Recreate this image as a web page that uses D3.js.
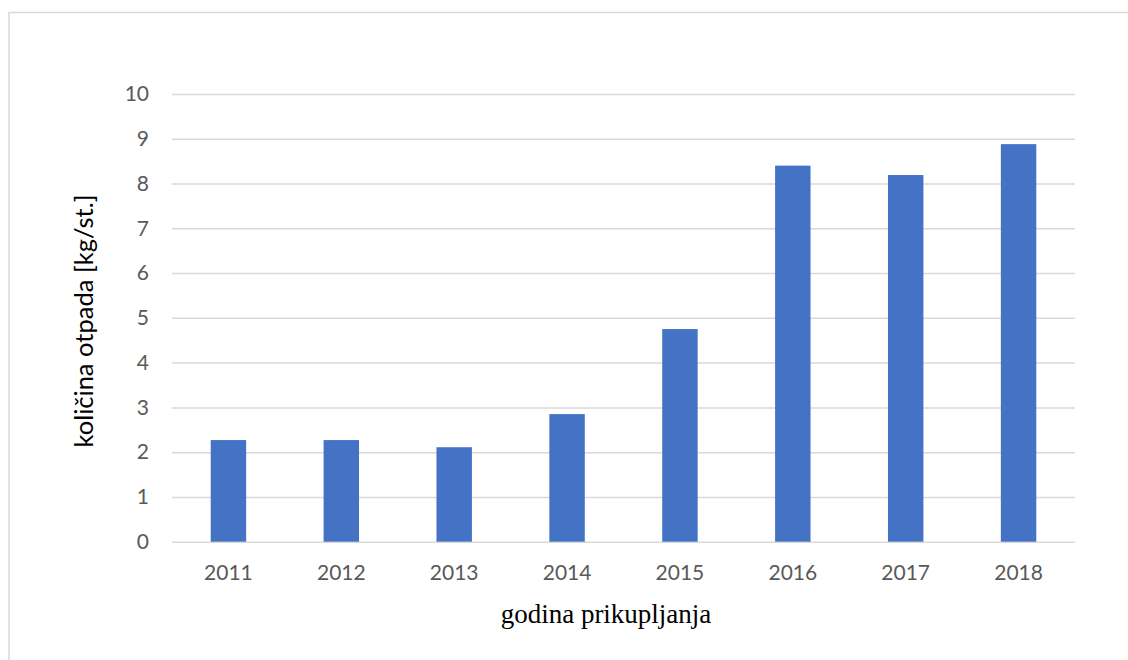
<!DOCTYPE html>
<html>
<head>
<meta charset="utf-8">
<script src="https://cdn.jsdelivr.net/npm/d3@7"></script>
<style>
  body { margin: 0; background: #fff; }
  svg { display: block; }
  .tick text { font-family: Lato, "Open Sans", sans-serif; font-size: 21px; fill: #595959; }
  .grid line { stroke: #d9d9d9; stroke-width: 1.5; }
</style>
</head>
<body>
<svg id="chart" width="1128" height="660"></svg>
<script>
var years = ["2011", "2012", "2013", "2014", "2015", "2016", "2017", "2018"];
var values = [2.27, 2.27, 2.11, 2.85, 4.75, 8.40, 8.19, 8.88];
var yTicks = [0, 1, 2, 3, 4, 5, 6, 7, 8, 9, 10];

var svg = d3.select("#chart");
var plotLeft = 172, plotRight = 1075, plotTop = 94, plotBottom = 541.7;

// chart border
svg.append("rect")
   .attr("x", 9).attr("y", 12.5)
   .attr("width", 1140).attr("height", 700)
   .attr("fill", "none")
   .attr("stroke", "#d9d9d9")
   .attr("stroke-width", 1.5);

var x = d3.scaleBand()
          .domain(years)
          .range([plotLeft, plotRight])
          .paddingInner(0.686)
          .paddingOuter(0.343);

var y = d3.scaleLinear()
          .domain([0, 10])
          .range([plotBottom, plotTop]);

// gridlines + y labels
var yAxis = svg.append("g")
   .attr("class", "grid")
   .attr("transform", "translate(" + plotLeft + ",0)")
   .call(d3.axisLeft(y).tickValues(yTicks).tickSize(-(plotRight - plotLeft)).tickPadding(23));
yAxis.select(".domain").remove();

// bars
svg.selectAll(".bar")
   .data(values)
   .enter()
   .append("rect")
   .attr("class", "bar")
   .attr("x", function(d, i){ return x(years[i]); })
   .attr("width", x.bandwidth())
   .attr("y", function(d){ return y(d); })
   .attr("height", function(d){ return plotBottom - y(d); })
   .attr("fill", "#4472c4");

// x labels
var xAxis = svg.append("g")
   .attr("transform", "translate(0," + plotBottom + ")")
   .call(d3.axisBottom(x).tickSize(0).tickPadding(23));
xAxis.select(".domain").remove();

// axis titles
svg.append("text")
   .attr("x", 606)
   .attr("y", 623)
   .attr("text-anchor", "middle")
   .style("font-family", "'Liberation Serif', 'Times New Roman', serif")
   .style("font-size", "27px")
   .style("fill", "#000")
   .text("godina prikupljanja");

svg.append("text")
   .attr("transform", "translate(93,321) rotate(-90)")
   .attr("text-anchor", "middle")
   .style("font-family", "Lato, 'Open Sans', sans-serif")
   .style("font-size", "25.5px")
   .style("fill", "#000")
   .text("količina otpada [kg/st.]");
</script>
</body>
</html>
